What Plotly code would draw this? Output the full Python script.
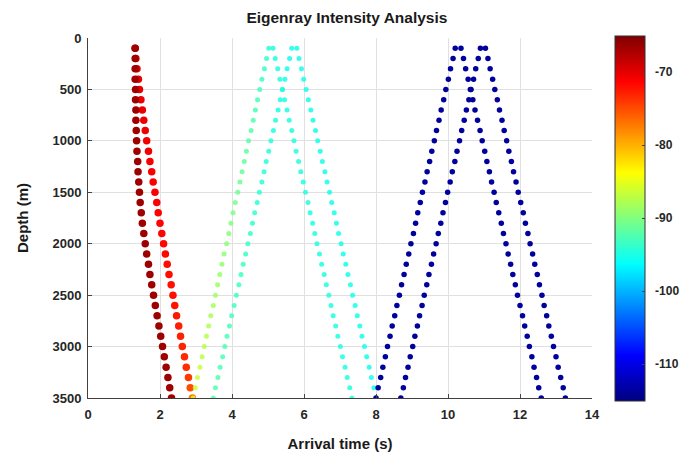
import plotly.graph_objects as go

# Receiver depths (m)
depth = [100, 200, 300, 400, 500, 600, 700, 800, 900, 1000,
         1100, 1200, 1300, 1400, 1500, 1600, 1700, 1800, 1900, 2000,
         2100, 2200, 2300, 2400, 2500, 2600, 2700, 2800, 2900, 3000,
         3100, 3200, 3300, 3400, 3500]

# Arrival times (s) for each eigenray branch
t_a = [1.31, 1.31, 1.31, 1.31, 1.32, 1.32, 1.33, 1.33, 1.34, 1.35,
       1.36, 1.38, 1.39, 1.41, 1.43, 1.45, 1.48, 1.51, 1.55, 1.59,
       1.63, 1.68, 1.72, 1.77, 1.82, 1.87, 1.92, 1.97, 2.02, 2.07,
       2.12, 2.17, 2.22, 2.27, 2.32]
t_b = [1.31, 1.33, 1.36, 1.40, 1.43, 1.47, 1.51, 1.55, 1.59, 1.63,
       1.68, 1.72, 1.77, 1.81, 1.86, 1.91, 1.95, 2.00, 2.05, 2.10,
       2.15, 2.20, 2.25, 2.31, 2.36, 2.41, 2.46, 2.52, 2.57, 2.62,
       2.68, 2.73, 2.79, 2.84, 2.90]
t_c = [5.02, 4.96, 4.90, 4.83, 4.77, 4.71, 4.65, 4.59, 4.53, 4.46,
       4.40, 4.34, 4.28, 4.22, 4.16, 4.09, 4.03, 3.97, 3.91, 3.85,
       3.78, 3.72, 3.66, 3.60, 3.54, 3.48, 3.41, 3.35, 3.29, 3.23,
       3.17, 3.11, 3.04, 2.98, 2.92]
t_d = [5.66, 5.60, 5.53, 5.47, 5.40, 5.34, 5.28, 5.21, 5.15, 5.08,
       5.02, 4.95, 4.89, 4.83, 4.76, 4.70, 4.63, 4.57, 4.51, 4.44,
       4.38, 4.31, 4.25, 4.19, 4.12, 4.06, 3.99, 3.93, 3.86, 3.80,
       3.74, 3.67, 3.61, 3.54, 3.48]
t_e = [5.14, 5.20, 5.27, 5.33, 5.40, 5.46, 5.53, 5.59, 5.66, 5.72,
       5.78, 5.85, 5.91, 5.98, 6.04, 6.11, 6.17, 6.24, 6.30, 6.36,
       6.43, 6.49, 6.56, 6.62, 6.69, 6.75, 6.81, 6.88, 6.94, 7.01,
       7.07, 7.14, 7.20, 7.27, 7.33]
t_f = [5.80, 5.86, 5.93, 5.99, 6.06, 6.12, 6.19, 6.25, 6.32, 6.38,
       6.45, 6.51, 6.58, 6.64, 6.71, 6.77, 6.84, 6.90, 6.96, 7.03,
       7.09, 7.16, 7.22, 7.29, 7.35, 7.42, 7.48, 7.55, 7.61, 7.68,
       7.74, 7.81, 7.87, 7.94, 8.00]
t_g = [10.20, 10.14, 10.07, 10.01, 9.94, 9.88, 9.81, 9.75, 9.68, 9.62,
       9.55, 9.49, 9.42, 9.36, 9.29, 9.23, 9.16, 9.10, 9.04, 8.97,
       8.91, 8.84, 8.78, 8.71, 8.65, 8.58, 8.52, 8.45, 8.39, 8.32,
       8.26, 8.19, 8.13, 8.06, 8.00]
t_h = [10.90, 10.84, 10.77, 10.71, 10.64, 10.58, 10.51, 10.45, 10.38, 10.32,
       10.25, 10.19, 10.12, 10.06, 9.99, 9.93, 9.86, 9.80, 9.73, 9.67,
       9.60, 9.54, 9.47, 9.41, 9.34, 9.28, 9.21, 9.15, 9.08, 9.02,
       8.95, 8.89, 8.82, 8.76, 8.69]
t_i = [10.36, 10.43, 10.49, 10.56, 10.62, 10.69, 10.75, 10.82, 10.89, 10.95,
       11.02, 11.08, 11.15, 11.21, 11.28, 11.34, 11.41, 11.48, 11.54, 11.61,
       11.67, 11.74, 11.80, 11.87, 11.93, 12.00, 12.07, 12.13, 12.20, 12.26,
       12.33, 12.39, 12.46, 12.52, 12.59]
t_j = [11.04, 11.11, 11.17, 11.24, 11.30, 11.37, 11.43, 11.50, 11.56, 11.63,
       11.69, 11.76, 11.82, 11.89, 11.95, 12.02, 12.09, 12.15, 12.22, 12.28,
       12.35, 12.41, 12.48, 12.54, 12.61, 12.67, 12.74, 12.80, 12.87, 12.93,
       13.00, 13.06, 13.13, 13.20, 13.26]

# Intensities (dB) for each branch
i_a = [-66.5] * 35
i_b = [-70.0, -70.0, -70.0, -70.0, -70.0, -70.2, -70.2, -70.4, -70.4, -70.6,
       -70.6, -70.8, -70.8, -71.0, -71.0, -71.2, -71.2, -71.4, -71.4, -71.6,
       -71.6, -71.8, -71.8, -72.0, -72.0, -72.2, -72.4, -72.6, -72.8, -73.0,
       -73.2, -73.5, -74.0, -75.0, -77.0]
i_c = [-94.0, -93.8, -93.5, -93.3, -93.1, -92.8, -92.6, -92.4, -92.1, -91.9,
       -91.6, -91.4, -91.2, -90.9, -90.7, -90.5, -90.2, -90.0, -89.8, -89.5,
       -89.3, -89.1, -88.8, -88.6, -88.4, -88.1, -87.9, -87.6, -87.4, -87.2,
       -86.9, -86.7, -86.5, -86.2, -86.0]
i_d = [-95.5, -95.4, -95.3, -95.2, -95.1, -95.0, -94.9, -94.8, -94.7, -94.6,
       -94.5, -94.4, -94.3, -94.2, -94.1, -94.0, -93.9, -93.8, -93.7, -93.6,
       -93.5, -93.4, -93.3, -93.2, -93.1, -93.0, -92.9, -92.8, -92.7, -92.6,
       -92.5, -92.4, -92.3, -92.2, -92.0]
i_e = [-94.8] * 35
i_f = [-95.2] * 35
i_g = [-113.5] * 35
i_h = [-113.5] * 35
i_i = [-113.5] * 35
i_j = [-113.5] * 35

cmin, cmax = -115, -65
cbar_ticks = [-110, -100, -90, -80, -70]
x_ticks = [0, 2, 4, 6, 8, 10, 12, 14]
y_ticks = [0, 500, 1000, 1500, 2000, 2500, 3000, 3500]

jet = [[0.0, "rgb(0,0,128)"], [0.125, "rgb(0,0,255)"], [0.375, "rgb(0,255,255)"],
       [0.625, "rgb(255,255,0)"], [0.875, "rgb(255,0,0)"], [1.0, "rgb(128,0,0)"]]

# drawing order: B below A so the dark branch shows where they overlap
branches = [
    (t_b, i_b, 7.5, 1.0), (t_a, i_a, 7.5, 1.0),
    (t_c, i_c, 5, 0.85), (t_d, i_d, 5, 0.85), (t_e, i_e, 5, 0.85), (t_f, i_f, 5, 0.85),
    (t_g, i_g, 5.5, 1.0), (t_h, i_h, 5.5, 1.0), (t_i, i_i, 5.5, 1.0), (t_j, i_j, 5.5, 1.0),
]

FONT = "Liberation Sans"
fig = go.Figure()
for n, (t, inten, sz, op) in enumerate(branches):
    fig.add_trace(go.Scatter(
        x=t, y=depth, mode="markers",
        marker=dict(
            size=sz, color=inten, colorscale=jet, cmin=cmin, cmax=cmax,
            opacity=op, line=dict(width=0),
            showscale=(n == 0),
            colorbar=dict(
                x=1.045, xanchor="left", y=0.5, yanchor="middle",
                len=365, lenmode="pixels", thickness=30, xpad=0, ypad=0,
                tickvals=cbar_ticks,
                ticktext=["\u2007<b>%d</b>" % v for v in cbar_ticks],
                ticks="inside", ticklen=3,
                outlinewidth=1, outlinecolor="#333",
                tickfont=dict(family=FONT, size=12, color="#262626"),
            ),
        ),
        showlegend=False,
    ))

fig.update_layout(
    width=698, height=457,
    margin=dict(l=88, r=106, t=38, b=59),
    paper_bgcolor="white", plot_bgcolor="white",
    title=dict(text="<b>Eigenray Intensity Analysis</b>", x=0.497, xanchor="center",
               yref="container", y=0.962, yanchor="middle",
               font=dict(family=FONT, size=15.5, color="#1a1a1a")),
    font=dict(family=FONT, size=12, color="#262626"),
)
fig.update_xaxes(
    range=[0, 14], tickvals=x_ticks,
    ticktext=["<b>%d</b>" % v for v in x_ticks],
    ticks="inside", ticklen=4, ticklabelstandoff=4, automargin=False,
    showgrid=True, gridcolor="#e0e0e0", zeroline=False,
    showline=True, linecolor="#404040", linewidth=1, mirror=False,
    tickfont=dict(family=FONT, size=13, color="#262626"),
    title=dict(text="<b>Arrival time (s)</b>", standoff=17,
               font=dict(family=FONT, size=15, color="#1a1a1a")),
)
fig.update_yaxes(
    range=[3500, 0], tickvals=y_ticks,
    ticktext=["<b>%d</b>" % v for v in y_ticks],
    ticks="inside", ticklen=4, ticklabelstandoff=3,
    showgrid=True, gridcolor="#e0e0e0", zeroline=False,
    showline=True, linecolor="#404040", linewidth=1, mirror=False,
    tickfont=dict(family=FONT, size=13, color="#262626"),
    title=dict(text="<b>Depth (m)</b>", standoff=20,
               font=dict(family=FONT, size=15, color="#1a1a1a")),
)

fig.write_html("out.html", config={"displayModeBar": False},
               post_script="document.body.style.margin='0';")
